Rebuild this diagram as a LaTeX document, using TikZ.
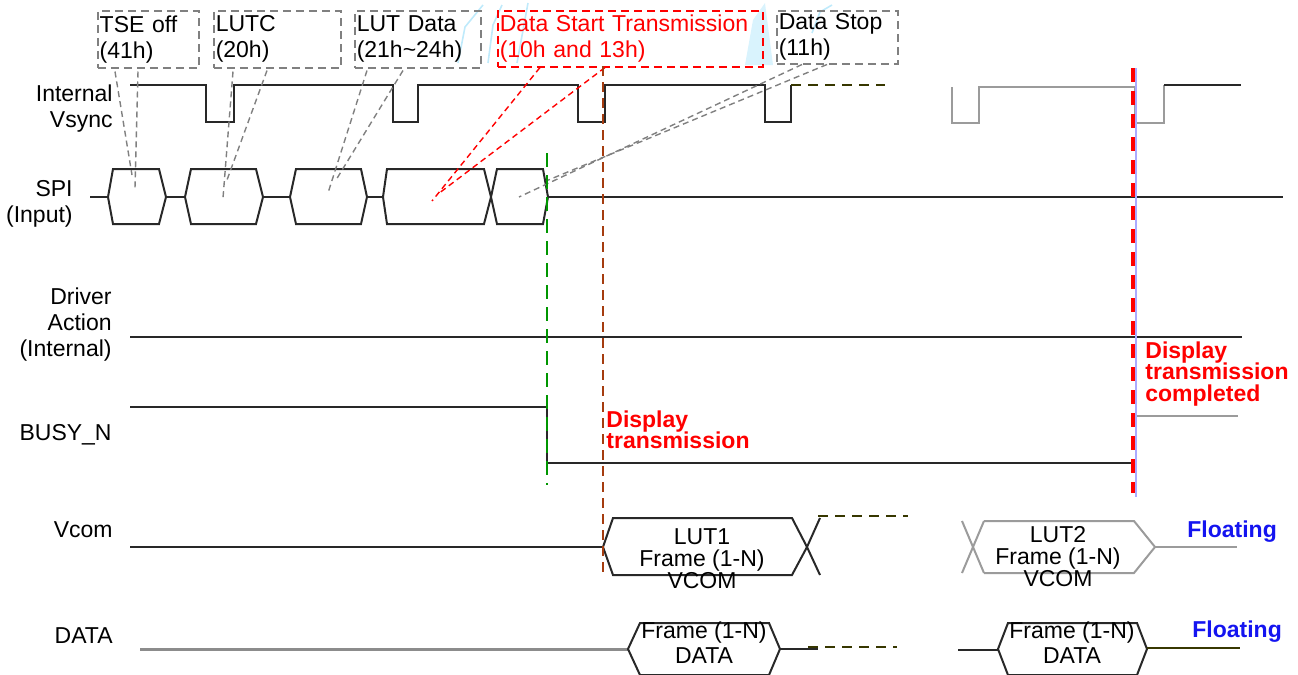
\documentclass[tikz,border=0pt]{standalone}
\usepackage{fontspec}
\setmainfont{Liberation Sans}
\usetikzlibrary{calc}

\definecolor{sigline}{RGB}{40,40,40}
\definecolor{sigdim}{RGB}{155,155,155}
\definecolor{datagray}{RGB}{140,140,140}
\definecolor{calloutgray}{RGB}{128,128,128}
\definecolor{markbrown}{RGB}{165,60,15}
\definecolor{markgreen}{RGB}{0,150,0}
\definecolor{markblue}{RGB}{170,170,255}
\definecolor{olivedark}{RGB}{55,55,0}
\definecolor{floatblue}{RGB}{20,20,240}

\begin{document}
\begin{tikzpicture}[
        x=0.5pt, y=-0.5pt,
        sig/.style={draw=sigline, line width=1pt},
        dimsig/.style={draw=sigdim, line width=1pt},
        olivedash/.style={draw=olivedark, line width=1pt, dash pattern=on 5pt off 3.5pt},
        sigtext/.style={font=\fontsize{11.5pt}{13pt}\selectfont, align=right, inner sep=0pt},
        cbox/.style={draw=calloutgray, line width=0.75pt, dash pattern=on 4pt off 2.5pt, anchor=north west,
            align=left, inner sep=1pt, font=\fontsize{11.5pt}{13pt}\selectfont},
        callout/.style={draw=calloutgray, line width=0.7pt, dash pattern=on 3pt off 2pt},
        boxtext/.style={font=\fontsize{11.5pt}{11pt}\selectfont, align=center, inner sep=0pt, anchor=north},
        note/.style={text=red, font=\bfseries\fontsize{11.5pt}{10.75pt}\selectfont, align=left, inner sep=0pt, anchor=north west},
        floatnote/.style={text=floatblue, font=\bfseries\fontsize{11.5pt}{13pt}\selectfont, inner sep=0pt, anchor=base west}
    ]
        \useasboundingbox (0,0) rectangle (1298,675);

        % faint marks at the top
        \draw[cyan!25, line width=0.8pt] (458,63) -- (465,27) -- (483,5);
        \draw[cyan!25, line width=0.8pt] (488,63) -- (493,25) -- (502,5);
        \draw[cyan!25, line width=0.8pt] (517,63) -- (528,3);
        \fill[cyan!15] (745,65) -- (753,20) -- (765,3) -- (773,65) -- cycle;
        \draw[cyan!25, line width=0.8pt] (812,33) -- (820,12) -- (832,5);

        % signal names
        \node[sigtext, anchor=east] (vsynclbl) at (113,109) {Internal\\Vsync};
        \node[sigtext, anchor=east] (spilbl) at (73,204) {SPI\\(Input)};
        \node[sigtext, anchor=east] (drvlbl) at (112,325) {Driver\\Action\\(Internal)};
        \node[sigtext, anchor=base east] (busylbl) at (112,440) {BUSY\_N};
        \node[sigtext, anchor=base east] (vcomlbl) at (113,537) {Vcom};
        \node[sigtext, anchor=base east] (datalbl) at (113,643) {DATA};

        % command boxes
        \node[cbox, minimum width=50.5pt, minimum height=28.5pt, text width=48.5pt] (tse) at (97,10) {TSE off\\(41h)};
        \node[cbox, minimum width=63.5pt, minimum height=28.5pt, text width=61.5pt] (lutc) at (213,10) {LUTC\\(20h)};
        \node[cbox, minimum width=63pt, minimum height=28.5pt, text width=61pt] (lutdata) at (354,10) {LUT Data\\(21h\textasciitilde 24h)};
        \node[cbox, draw=red, text=red, minimum width=132.5pt, minimum height=28pt, text width=130.5pt] (dst) at (497,10) {Data Start Transmission\\(10h and 13h)};
        \node[cbox, minimum width=60.5pt, minimum height=26.5pt, text width=58.5pt] (dstop) at (776,10) {Data Stop\\(11h)};

        % Internal Vsync
        \draw[sig] (130,85) \foreach \a/\b in {206/234, 393/418, 578/605, 765/791} { -- (\a,85) -- (\a,122) -- (\b,122) -- (\b,85) };
        \draw[olivedash] (791,85) -- (885,85);
        \draw[dimsig] (952,87) -- (952,123) -- (979,123) -- (979,87) -- (1135,87) -- (1135,123) -- (1164,123) -- (1164,85);
        \draw[sig] (1164,85) -- (1241,85);

        % SPI bus
        \draw[sig] (90,197) -- (108,197) (166,197) -- (185,197) (263,197) -- (290,197) (367,197) -- (383,197) (548,197) -- (1283,197);
        \foreach \l/\tl/\tr/\r in {108/113/159/166, 185/191/256/263, 290/296/361/367, 383/387/484/491, 491/497/543/548}
            \draw[sig] (\l,197) -- (\tl,169) -- (\tr,169) -- (\r,197) -- (\tr,224) -- (\tl,224) -- cycle;

        \coordinate (tseA) at (132,175);
        \coordinate (tseB) at (135,188);
        \coordinate (lutcA) at (223,198);
        \coordinate (lutcB) at (227,180);
        \coordinate (lutdA) at (328,193);
        \coordinate (lutdB) at (336,180);
        \coordinate (dstA) at (432,201);
        \coordinate (dstB) at (438,194);
        \coordinate (dstopA) at (519,197);
        \coordinate (dstopB) at (546,181);

        % callouts
        \draw[callout] ($(tse.south west)+(18,3)$) -- (tseA);
        \draw[callout] ($(tse.south west)+(41,3)$) -- (tseB);
        \draw[callout] ($(lutc.south west)+(20,3)$) -- (lutcA);
        \draw[callout] ($(lutc.south west)+(54,2)$) -- (lutcB);
        \draw[callout] ($(lutdata.south west)+(13,2)$) -- (lutdA);
        \draw[callout] ($(lutdata.south west)+(49,2)$) -- (lutdB);
        \draw[callout, draw=red] ($(dst.south west)+(43,0)$) -- (dstA);
        \draw[callout, draw=red] ($(dst.south west)+(108,0)$) -- (dstB);
        \draw[callout] ($(dstop.south west)+(26,0)$) -- (dstopA);
        \draw[callout] ($(dstop.south west)+(51,0)$) -- (dstopB);

        % Driver action and BUSY_N
        \draw[sig] (130,337) -- (1242,337);
        \draw[sig] (130,407) -- (547,407) -- (547,463) -- (1133,463);
        \draw[dimsig] (1136,416) -- (1238,416);

        % Vcom
        \draw[sig] (130,547) -- (603,547);
        \draw[sig] (603,547) -- (613,518) -- (792,518) -- (807,547) -- (792,575) -- (613,575) -- cycle;
        \draw[sig] (807,547) -- (820,518) (807,547) -- (820,575);
        \draw[olivedash] (818,516) -- (908,516);
        \draw[dimsig] (962,521) -- (984,573) (962,573) -- (984,521);
        \draw[dimsig] (984,521) -- (1134,521) -- (1155,547) -- (1134,573) -- (984,573);
        \draw[draw=sigdim, line width=0.6pt] (1155,547) -- (1237,547);
        \node[boxtext] (lut1txt) at (702,528) {LUT1\\Frame (1-N)\\VCOM};
        \node[boxtext] (lut2txt) at (1058,526) {LUT2\\Frame (1-N)\\VCOM};

        % DATA
        \draw[draw=datagray, line width=1.5pt] (140,649) -- (628,649);
        \draw[sig] (628,649) -- (640,623) -- (769,623) -- (780,649) -- (769,675) -- (640,675) -- cycle;
        \draw[sig] (780,649) -- (818,649);
        \draw[olivedash] (808,647) -- (897,647);
        \draw[sig] (958,650) -- (998,650);
        \draw[sig] (998,649) -- (1008,623) -- (1137,623) -- (1147,649) -- (1137,675) -- (1008,675) -- cycle;
        \draw[draw=olivedark, line width=1pt] (1147,648) -- (1240,648);
        \node[boxtext, font=\fontsize{11.5pt}{12.5pt}\selectfont] (data1txt) at (704,621) {Frame (1-N)\\DATA};
        \node[boxtext, font=\fontsize{11.5pt}{12.5pt}\selectfont] (data2txt) at (1072,621) {Frame (1-N)\\DATA};

        % time markers
        \draw[markgreen, line width=0.9pt, dash pattern=on 7pt off 4pt] (547,153) -- (547,485);
        \draw[markbrown, line width=0.9pt, dash pattern=on 5pt off 3pt] (603,66) -- (603,572);
        \draw[markblue, line width=0.8pt] (1136,68) -- (1136,497);
        \draw[red, line width=2pt, dash pattern=on 7pt off 4.5pt] (1133,68) -- (1133,493);

        % notes
        \node[note] (disptx) at (606,410) {Display\\transmission};
        \node[note] (dispdone) at (1145,341) {Display\\transmission\\completed};
        \node[floatnote] (vcomfloat) at (1187,537) {Floating};
        \node[floatnote] (datafloat) at (1192,637) {Floating};
    \end{tikzpicture}
\end{document}
